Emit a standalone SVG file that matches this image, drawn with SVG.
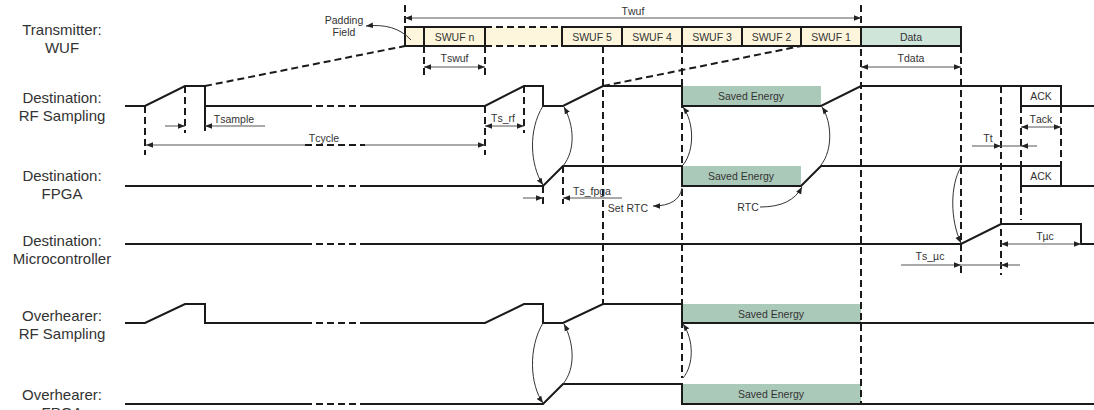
<svg xmlns="http://www.w3.org/2000/svg" width="1094" height="410" viewBox="0 0 1094 410">
<defs>
<style>
.sig{fill:none;stroke:#1a1a1a;stroke-width:2;stroke-linejoin:miter}
.dsh{fill:none;stroke:#1a1a1a;stroke-width:2;stroke-dasharray:7 4}
.dim{fill:none;stroke:#555;stroke-width:1}
.cur{fill:none;stroke:#333;stroke-width:1}
.row{font-family:"Liberation Sans",Arial,sans-serif;font-size:15px;fill:#333;text-anchor:middle}
.sm{font-family:"Liberation Sans",Arial,sans-serif;font-size:10.5px;fill:#333;text-anchor:middle;font-kerning:none}
.box{stroke:#1a1a1a;stroke-width:2}
.yel{fill:#fdf6dc}
.dat{fill:#cfe5da}
.sav{fill:#abc9b9}
</style>
<marker id="ah" viewBox="0 0 10 10" refX="10" refY="5" markerWidth="7" markerHeight="7" markerUnits="userSpaceOnUse" orient="auto-start-reverse"><path d="M0,1 L10,5 L0,9 z" fill="#222"/></marker>
<marker id="ch" viewBox="0 0 10 10" refX="10" refY="5" markerWidth="7" markerHeight="7" markerUnits="userSpaceOnUse" orient="auto"><path d="M0,1 L10,5 L0,9 z" fill="#222"/></marker>
</defs>
<rect width="1094" height="410" fill="#fff"/>

<g id="row-labels">
<text class="row" x="62" y="35">Transmitter:</text>
<text class="row" x="62" y="53">WUF</text>
<text class="row" x="62" y="103">Destination:</text>
<text class="row" x="62" y="121">RF Sampling</text>
<text class="row" x="62" y="181">Destination:</text>
<text class="row" x="62" y="199">FPGA</text>
<text class="row" x="62" y="246">Destination:</text>
<text class="row" x="62" y="264">Microcontroller</text>
<text class="row" x="62" y="321">Overhearer:</text>
<text class="row" x="62" y="339">RF Sampling</text>
<text class="row" x="62" y="400">Overhearer:</text>
<text class="row" x="62" y="418">FPGA</text>
</g>

<g id="wuf-frame">
<rect class="yel" x="485" y="27" width="77" height="19"/>
<path class="dsh" d="M485 27 H562 M485 46 H562"/>
<rect class="yel box" x="405" y="27" width="19" height="19"/>
<rect class="yel box" x="424" y="27" width="61" height="19"/>
<rect class="yel box" x="562" y="27" width="60" height="19"/>
<rect class="yel box" x="622" y="27" width="60" height="19"/>
<rect class="yel box" x="682" y="27" width="60" height="19"/>
<rect class="yel box" x="742" y="27" width="59" height="19"/>
<rect class="yel box" x="801" y="27" width="60" height="19"/>
<rect class="dat box" x="861" y="27" width="100" height="19"/>
<text class="sm" x="454.5" y="40.5">SWUF n</text>
<text class="sm" x="592" y="40.5">SWUF 5</text>
<text class="sm" x="652" y="40.5">SWUF 4</text>
<text class="sm" x="712" y="40.5">SWUF 3</text>
<text class="sm" x="771.5" y="40.5">SWUF 2</text>
<text class="sm" x="831" y="40.5">SWUF 1</text>
<text class="sm" x="911" y="40.5">Data</text>
<text class="sm" x="344" y="24" font-size="10">Padding</text>
<text class="sm" x="344" y="36" font-size="10">Field</text>
</g>

<g id="dest-rf">
<rect class="sav" x="682" y="86" width="139" height="20"/>
<text class="sm" x="751" y="100">Saved Energy</text>
<path class="sig" d="M125 106 H145 L185 86 H205 V106 H305"/>
<path class="dsh" d="M305 106 H365"/>
<path class="sig" d="M365 106 H485 L524 86 H543 V106 H563 L603 86 H682 V106 H821 L861 86 H1061 V106 H1094"/>
<path class="sig" d="M1021 86 V106 H1061"/>
<text class="sm" x="1041" y="100">ACK</text>
</g>

<g id="dest-fpga">
<rect class="sav" x="682" y="166" width="119" height="20"/>
<text class="sm" x="741" y="180">Saved Energy</text>
<path class="sig" d="M125 186 H305"/>
<path class="dsh" d="M305 186 H365"/>
<path class="sig" d="M365 186 H543 L563 166 H682 V186 H801 L821 166 H1061 V186 H1094"/>
<path class="sig" d="M1021 166 V186 H1061"/>
<text class="sm" x="1041" y="180">ACK</text>
</g>

<g id="dest-mcu">
<path class="sig" d="M125 244 H305"/>
<path class="dsh" d="M305 244 H365"/>
<path class="sig" d="M365 244 H961 L1001 224 H1081 V244 H1094"/>
</g>

<g id="over-rf">
<rect class="sav" x="682" y="304" width="179" height="19"/>
<text class="sm" x="771" y="317.5">Saved Energy</text>
<path class="sig" d="M125 323 H145 L185 304 H205 V323 H305"/>
<path class="dsh" d="M305 323 H365"/>
<path class="sig" d="M365 323 H485 L524 304 H543 V323 H563 L603 304 H682 V323 H1094"/>
</g>

<g id="over-fpga">
<rect class="sav" x="682" y="384" width="179" height="20"/>
<text class="sm" x="771" y="398">Saved Energy</text>
<path class="sig" d="M125 404 H305"/>
<path class="dsh" d="M305 404 H365"/>
<path class="sig" d="M365 404 H543 L563 384 H682 V404 H1094"/>
</g>

<g id="connectors">
<!-- dashed guide lines -->
<path class="dsh" d="M405 5 V27"/>
<path class="dsh" d="M861 5 V404"/>
<path class="dsh" d="M424 46 V75 M485 46 V75"/>
<path class="dsh" d="M603 46 V304"/>
<path class="dsh" d="M682 46 V378"/>
<path class="dsh" d="M961 46 V275"/>
<path class="dsh" d="M1001 86 V275"/>
<path class="dsh" d="M1021 106 V166 M1021 186 V220"/>
<path class="dsh" d="M1061 106 V166"/>
<path class="dsh" d="M145 106 V155 M185 86 V133 M485 106 V155 M524 86 V133"/>
<path class="dsh" d="M543 186 V208 M563 166 V204"/>
<path class="dsh" d="M205 86 L405 46 M603 86 L801 46"/>
<path class="sig" d="M205 106 V131" stroke-width="1.5"/>

<!-- dimension lines -->
<path class="dim" d="M405 18 H861" marker-start="url(#ah)" marker-end="url(#ah)"/>
<text class="sm" x="633" y="15">Twuf</text>
<path class="dim" d="M424 67 H485" marker-start="url(#ah)" marker-end="url(#ah)"/>
<text class="sm" x="454.5" y="62">Tswuf</text>
<path class="dim" d="M861 67 H961" marker-start="url(#ah)" marker-end="url(#ah)"/>
<text class="sm" x="911" y="62">Tdata</text>
<path class="dim" d="M165 126 H185" marker-end="url(#ah)"/>
<path class="dim" d="M265 126 H205" marker-end="url(#ah)"/>
<text class="sm" x="234" y="123">Tsample</text>
<path class="dim" d="M146 145 H305" marker-start="url(#ah)"/>
<path class="dsh" d="M305 145 H365"/>
<path class="dim" d="M365 145 H485" marker-end="url(#ah)"/>
<text class="sm" x="324" y="142">Tcycle</text>
<path class="dim" d="M485 126 H524" marker-start="url(#ah)" marker-end="url(#ah)"/>
<text class="sm" x="503" y="122">Ts_rf</text>
<path class="dim" d="M523 198 H543" marker-end="url(#ah)"/>
<path class="dim" d="M622 198 H563" marker-end="url(#ah)"/>
<text class="sm" x="592" y="195">Ts_fpga</text>
<path class="dim" d="M1021 127 H1061" marker-start="url(#ah)" marker-end="url(#ah)"/>
<text class="sm" x="1041" y="123">Tack</text>
<path class="dim" d="M972 146 H1001" marker-end="url(#ah)"/>
<path class="dim" d="M1037 146 H1021" marker-end="url(#ah)"/>
<path class="dim" d="M1001 146 H1021"/>
<text class="sm" x="988" y="142">Tt</text>
<path class="dim" d="M1001 244 H1081" marker-start="url(#ah)" marker-end="url(#ah)"/>
<text class="sm" x="1045" y="240">Tµc</text>
<path class="dim" d="M901 265 H961" marker-end="url(#ah)"/>
<path class="dim" d="M1020 265 H1001" marker-end="url(#ah)"/>
<path class="dim" d="M961 265 H1001"/>
<text class="sm" x="930" y="260">Ts_µc</text>

<!-- curved arrows -->
<path class="cur" d="M411 40 C400 28 385 24 366 26" marker-end="url(#ch)"/>
<path class="cur" d="M543 106 C528 130 530 165 543 185" marker-end="url(#ch)"/>
<path class="cur" d="M563 166 C576 150 574 125 564 107" marker-end="url(#ch)"/>
<path class="cur" d="M683 165 C695 150 694 122 683 107" marker-end="url(#ch)"/>
<path class="cur" d="M682 188 C680 200 670 206 653 206" marker-end="url(#ch)"/>
<text class="sm" x="628" y="212" font-size="11">Set RTC</text>
<path class="cur" d="M821 165 C833 150 832 122 822 107" marker-end="url(#ch)"/>
<path class="cur" d="M760 207 C782 207 795 200 802 187" marker-end="url(#ch)"/>
<text class="sm" x="748" y="211" font-size="11">RTC</text>
<path class="cur" d="M961 167 C950 185 950 220 961 243" marker-end="url(#ch)"/>
<path class="cur" d="M543 323 C528 348 530 385 543 403" marker-end="url(#ch)"/>
<path class="cur" d="M563 384 C576 368 574 343 564 324" marker-end="url(#ch)"/>
<path class="cur" d="M683 378 C694 365 694 340 683 324" marker-end="url(#ch)"/>
</g>
</svg>
